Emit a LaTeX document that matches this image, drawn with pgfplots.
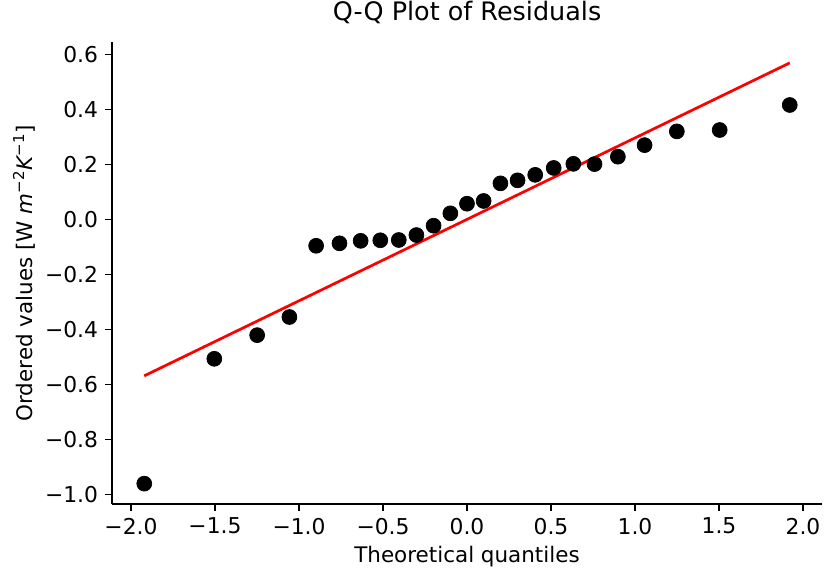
\documentclass[border=0pt]{standalone}
\usepackage{fontspec}
\setmainfont{DejaVu Sans}
\usepackage{pgfplots}
\pgfplotsset{compat=1.18}
\usepackage{pgfplotstable}

% ordered residuals against theoretical normal quantiles
\pgfplotstableread{
x y
-1.921 -0.961
-1.504 -0.507
-1.249 -0.421
-1.057 -0.355
-0.898 -0.096
-0.759 -0.087
-0.633 -0.078
-0.516 -0.076
-0.406 -0.075
-0.301 -0.057
-0.199 -0.023
-0.099 0.022
0 0.057
0.099 0.067
0.199 0.131
0.301 0.142
0.406 0.162
0.516 0.187
0.633 0.202
0.759 0.201
0.898 0.228
1.057 0.270
1.249 0.320
1.504 0.325
1.921 0.416
}\residuals

\newdimen\px
\px=0.55pt

\begin{document}
\begin{tikzpicture}
\begin{axis}[
  scale only axis,
  width=710\px, height=461.7\px,
  xmin=-2.113, xmax=2.113,
  ymin=-1.035, ymax=0.644,
  axis x line*=bottom, axis y line*=left,
  axis line style={line width=0.9pt, -},
  tick align=outside,
  major tick length=4pt,
  every tick/.style={black, line width=0.9pt},
  xtick={-2,-1.5,-1,-0.5,0,0.5,1,1.5,2},
  xticklabels={−2.0,−1.5,−1.0,−0.5,0.0,0.5,1.0,1.5,2.0},
  ytick={-1,-0.8,-0.6,-0.4,-0.2,0,0.2,0.4,0.6},
  yticklabels={−1.0,−0.8,−0.6,−0.4,−0.2,0.0,0.2,0.4,0.6},
  ticklabel style={font=\fontsize{12}{14}\selectfont},
  xticklabel style={inner sep=3.5pt},
  yticklabel style={inner sep=3.5pt},
  title={Q-Q Plot of Residuals},
  title style={font=\fontsize{14}{16}\selectfont, at={(rel axis cs:0.5,1)}, anchor=base, yshift=6.2pt},
  xlabel={Theoretical quantiles},
  xlabel style={font=\fontsize{11.8}{14}\selectfont, at={(rel axis cs:0.5,0)}, anchor=base, yshift=-32.4pt},
  ylabel={Ordered values [W {\itshape m}\textsuperscript{−2}{\itshape K}\textsuperscript{−1}]},
  ylabel style={font=\fontsize{11.8}{14}\selectfont, at={(rel axis cs:0,0.5)}, anchor=center, yshift=48.4pt},
  clip=false,
]
\addplot[red, line width=1.5pt] coordinates {(-1.921,-0.569) (1.921,0.569)};
\addplot[only marks, mark=*, mark size=4.1pt, mark options={black, fill=black}] table[x=x, y=y] {\residuals};
\end{axis}
\pgfresetboundingbox
\path (current axis.south west) ++(-112\px,-69\px) rectangle ++(824\px,573\px);
\end{tikzpicture}
\end{document}
